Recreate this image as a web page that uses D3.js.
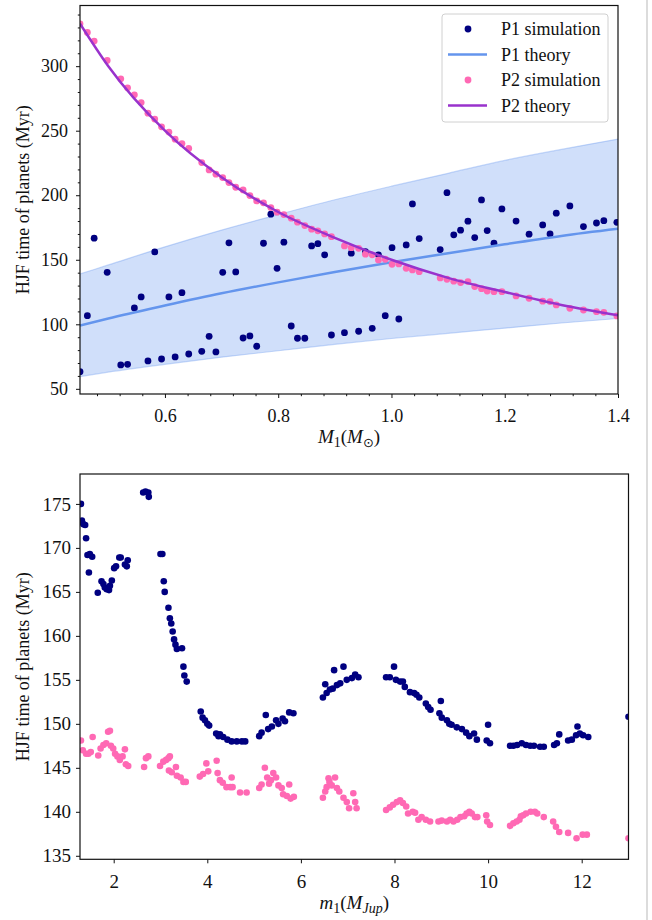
<!DOCTYPE html>
<html lang="en">
<head>
    <meta charset="utf-8">
    <title>HJF time of planets</title>
    <script src="https://d3js.org/d3.v7.min.js"></script>
    <style>
        body { margin: 0; background: #fff; }
    </style>
</head>
<body>
    <div id="chart"></div>

    <script>
        // ---- top panel: HJF time vs host star mass ----
        const hostMass = [0.450, 0.463, 0.475, 0.498, 0.522, 0.534, 0.546, 0.558, 0.570, 0.582,
            0.594, 0.607, 0.618, 0.630, 0.642, 0.665, 0.678, 0.690, 0.702, 0.713,
            0.725, 0.738, 0.750, 0.762, 0.774, 0.787, 0.798, 0.810, 0.823, 0.834,
            0.847, 0.859, 0.870, 0.882, 0.894, 0.917, 0.929, 0.942, 0.954, 0.966,
            0.977, 0.989, 1.001, 1.013, 1.026, 1.037, 1.049, 1.086, 1.098, 1.110,
            1.122, 1.135, 1.147, 1.159, 1.169, 1.181, 1.195, 1.220, 1.243, 1.267,
            1.280, 1.291, 1.315, 1.339, 1.362, 1.375, 1.398];
        const p1Sim = [63.3, 106.7, 166.7, 140.3, 68.5, 69.0, 112.7, 121.2, 71.6, 156.1,
            73.1, 121.2, 74.7, 124.5, 77.0, 79.1, 90.7, 78.6, 140.3, 163.1,
            140.6, 89.4, 91.0, 83.0, 162.8, 185.3, 143.4, 163.6, 98.7, 89.2,
            89.2, 160.7, 162.5, 153.8, 91.7, 93.5, 155.1, 94.6, 156.3, 96.9,
            153.8, 106.7, 159.4, 104.1, 161.5, 193.3, 166.4, 157.9, 202.0, 169.3,
            172.9, 179.9, 167.2, 196.4, 172.6, 162.8, 189.4, 180.0, 169.8, 177.0,
            170.0, 186.1, 191.7, 175.7, 178.5, 180.3, 179.0];
        const p2Sim = [332.8, 326.1, 319.4, 304.4, 290.2, 283.2, 277.8, 271.8, 263.6, 259.0,
            253.0, 248.9, 243.4, 240.0, 236.2, 225.3, 219.6, 216.3, 213.7, 209.8,
            206.2, 204.1, 199.7, 195.6, 194.1, 190.4, 186.9, 185.0, 182.2, 179.1,
            176.5, 173.7, 172.4, 170.0, 167.9, 160.7, 159.4, 158.9, 154.3, 153.8,
            149.9, 150.4, 146.5, 146.8, 143.4, 142.1, 140.8, 135.9, 134.9, 133.4,
            132.3, 133.1, 129.2, 127.6, 125.8, 125.3, 125.3, 122.0, 120.2, 117.9,
            117.6, 115.0, 112.4, 111.1, 109.8, 109.3, 106.5];

        const theoryMass = [0.45, 0.5, 0.6, 0.7, 0.8, 0.9, 1.0, 1.1, 1.2, 1.3, 1.4];
        const p1Theory = [99, 104.5, 114.5, 124, 132.5, 140.5, 148, 155, 162, 168.5, 174];
        const p1Upper = [139, 146, 160, 173, 185, 196.5, 207, 217, 227, 235.5, 243.5];
        const p1Lower = [59.5, 63, 69, 74.5, 79.5, 84.5, 89, 93, 97, 101, 104.5];
        const p2Theory = [333, 300, 250, 214, 187, 167, 150, 136, 125, 115, 107];

        const topXTicks = [0.6, 0.8, 1.0, 1.2, 1.4];
        const topYTicks = [50, 100, 150, 200, 250, 300];

        // ---- bottom panel: HJF time vs planet mass ----
        const p1PlanetMass = [1.30, 1.32, 1.35, 1.39, 1.41, 1.44, 1.47, 1.49, 1.54, 1.66,
            1.74, 1.78, 1.81, 1.85, 1.90, 1.92, 1.96, 2.01, 2.05, 2.12,
            2.15, 2.24, 2.28, 2.30, 2.63, 2.68, 2.74, 2.75, 3.00, 3.04,
            3.07, 3.09, 3.17, 3.20, 3.23, 3.26, 3.29, 3.32, 3.35, 3.46,
            3.49, 3.51, 3.56, 3.86, 3.90, 3.95, 4.00, 4.04, 4.19, 4.24,
            4.27, 4.34, 4.43, 4.52, 4.63, 4.74, 4.81, 5.11, 5.16, 5.25,
            5.30, 5.38, 5.47, 5.52, 5.61, 5.66, 5.75, 5.84, 6.47, 6.52,
            6.55, 6.62, 6.68, 6.71, 6.77, 6.84, 6.91, 6.98, 7.09, 7.16,
            7.23, 7.82, 7.90, 7.99, 8.03, 8.12, 8.18, 8.22, 8.33, 8.42,
            8.47, 8.53, 8.67, 8.72, 8.77, 8.96, 8.99, 9.01, 9.12, 9.17,
            9.22, 9.33, 9.44, 9.53, 9.60, 9.70, 9.76, 9.97, 10.00, 10.04,
            10.47, 10.54, 10.62, 10.72, 10.81, 10.90, 10.98, 11.11, 11.19, 11.41,
            11.47, 11.52, 11.71, 11.79, 11.88, 11.91, 11.96, 12.03, 12.14, 13.00];
        const p1Time = [175.0, 173.1, 172.7, 172.6, 171.1, 169.2, 167.2, 169.3, 169.0, 164.9,
            166.2, 165.9, 165.5, 165.3, 165.2, 165.7, 166.3, 167.7, 167.9, 168.9,
            168.9, 168.1, 167.9, 168.6, 176.3, 176.4, 176.3, 175.8, 169.3, 169.3,
            166.2, 165.0, 163.2, 162.0, 161.4, 160.5, 159.6, 159.0, 158.5, 158.6,
            156.5, 155.5, 154.8, 151.4, 150.7, 150.4, 150.0, 149.8, 148.9, 148.6,
            148.8, 148.5, 148.2, 148.0, 148.0, 148.0, 148.0, 148.6, 149.0, 151.0,
            149.4, 149.7, 150.4, 150.0, 150.6, 150.3, 151.3, 151.2, 153.0, 154.5,
            153.5, 153.9, 154.0, 156.1, 154.4, 154.6, 156.5, 155.0, 155.2, 155.6,
            155.3, 155.3, 155.3, 156.5, 155.0, 154.8, 154.8, 154.2, 153.6, 153.5,
            153.3, 153.0, 152.3, 151.9, 151.6, 151.2, 152.6, 150.7, 150.4, 150.0,
            149.9, 149.6, 149.4, 149.0, 148.6, 148.9, 148.2, 148.1, 149.9, 147.8,
            147.5, 147.5, 147.6, 147.8, 147.6, 147.5, 147.5, 147.4, 147.4, 147.6,
            147.8, 148.8, 148.1, 148.2, 148.7, 149.7, 148.9, 148.7, 148.5, 150.8];

        const p2PlanetMass = [1.30, 1.34, 1.41, 1.46, 1.51, 1.55, 1.67, 1.72, 1.78, 1.84,
            1.88, 1.92, 1.94, 1.99, 2.03, 2.08, 2.13, 2.19, 2.24, 2.26,
            2.31, 2.65, 2.69, 2.74, 2.99, 3.06, 3.12, 3.17, 3.20, 3.18,
            3.24, 3.33, 3.35, 3.43, 3.49, 3.54, 3.84, 3.91, 3.98, 4.02,
            4.20, 4.22, 4.27, 4.33, 4.41, 4.49, 4.52, 4.54, 4.70, 4.84,
            5.11, 5.16, 5.23, 5.28, 5.32, 5.36, 5.41, 5.47, 5.52, 5.59,
            5.62, 5.70, 5.75, 5.78, 5.85, 6.47, 6.52, 6.55, 6.59, 6.61,
            6.66, 6.73, 6.77, 6.82, 6.91, 6.98, 7.03, 7.12, 7.16, 7.19,
            7.82, 7.90, 7.97, 8.05, 8.12, 8.18, 8.25, 8.29, 8.39, 8.44,
            8.51, 8.58, 8.67, 8.76, 8.94, 9.01, 9.12, 9.19, 9.26, 9.34,
            9.41, 9.49, 9.54, 9.60, 9.65, 9.72, 9.77, 9.96, 9.98, 10.04,
            10.47, 10.54, 10.61, 10.67, 10.70, 10.75, 10.81, 10.91, 11.00, 11.05,
            11.19, 11.39, 11.45, 11.52, 11.71, 11.89, 12.02, 12.11, 13.00];
        const p2Time = [148.1, 147.0, 146.6, 146.6, 146.8, 148.5, 146.4, 147.2, 147.6, 147.8,
            149.1, 149.2, 147.5, 147.2, 146.6, 146.3, 145.9, 146.3, 147.1, 145.4,
            145.2, 145.1, 146.1, 146.3, 145.2, 145.7, 145.9, 146.1, 146.3, 144.7,
            144.5, 145.1, 144.1, 143.9, 143.4, 143.4, 144.0, 144.3, 145.5, 144.6,
            145.8, 144.4, 143.6, 143.3, 142.8, 142.8, 143.9, 142.8, 142.2, 142.2,
            142.7, 143.1, 145.0, 143.9, 143.2, 143.6, 144.4, 143.9, 143.0, 142.7,
            142.0, 141.8, 143.1, 141.5, 141.7, 141.6, 142.3, 142.8, 143.8, 143.4,
            143.0, 143.9, 142.7, 142.3, 141.6, 141.1, 140.4, 142.1, 141.1, 140.4,
            140.2, 140.5, 140.8, 141.1, 141.3, 141.0, 140.6, 139.8, 140.0, 139.9,
            139.1, 139.4, 139.1, 138.9, 138.9, 139.0, 138.9, 139.1, 138.9, 139.1,
            139.4, 139.5, 139.8, 140.0, 139.8, 139.4, 139.4, 139.6, 138.9, 138.5,
            138.4, 138.7, 138.9, 139.1, 139.5, 139.6, 139.8, 140.0, 140.0, 139.8,
            139.4, 138.9, 138.3, 137.7, 137.6, 137.0, 137.4, 137.4, 137.0];

        const bottomXTicks = [2, 4, 6, 8, 10, 12];
        const bottomYTicks = [135, 140, 145, 150, 155, 160, 165, 170, 175];

        const legendLabels = ["P1 simulation", "P1 theory", "P2 simulation", "P2 theory"];

        // colours and font
        const navy = "#000080";
        const pink = "#ff69b4";
        const cornflower = "#6495ed";
        const orchid = "#9932cc";
        const serif = "'Liberation Serif', 'Times New Roman', serif";

        const width = 652;
        const height = 920;

        const svg = d3.select("#chart")
            .append("svg")
            .attr("width", width)
            .attr("height", height)
            .style("font-family", serif);

        // thin grey strip at the right edge of the picture
        svg.append("line")
            .attr("x1", 647).attr("x2", 647)
            .attr("y1", 0).attr("y2", height)
            .attr("stroke", "#dcdcdc")
            .attr("stroke-width", 2);

        // restyle d3 axis text (d3 puts a sans-serif font on the group)
        function styleAxis(g, size) {
            g.attr("font-family", null).attr("font-size", null);
            g.select(".domain").remove();
            g.selectAll("line").attr("stroke", "#111");
            g.selectAll("text")
                .style("font-family", serif)
                .style("font-size", size + "px")
                .attr("fill", "#111");
        }

        // ================= TOP PANEL =================
        const topBox = { left: 80, right: 618, top: 5.5, bottom: 394 };

        const x1 = d3.scaleLinear().domain([0.45, 1.4]).range([topBox.left, topBox.right]);
        const y1 = d3.scaleLinear().domain([46, 347]).range([topBox.bottom, topBox.top]);

        svg.append("clipPath").attr("id", "clipTop")
            .append("rect")
            .attr("x", topBox.left).attr("y", topBox.top)
            .attr("width", topBox.right - topBox.left).attr("height", topBox.bottom - topBox.top);

        const gTop = svg.append("g").attr("clip-path", "url(#clipTop)");

        const theory = theoryMass.map((m, i) => ({
            m, p1: p1Theory[i], up: p1Upper[i], lo: p1Lower[i], p2: p2Theory[i]
        }));

        // shaded range around P1 theory
        gTop.append("path")
            .datum(theory)
            .attr("d", d3.area()
                .x(d => x1(d.m))
                .y0(d => y1(d.lo))
                .y1(d => y1(d.up))
                .curve(d3.curveMonotoneX))
            .attr("fill", cornflower)
            .attr("fill-opacity", 0.3);

        ["up", "lo"].forEach(k => {
            gTop.append("path")
                .datum(theory)
                .attr("d", d3.line().x(d => x1(d.m)).y(d => y1(d[k])).curve(d3.curveMonotoneX))
                .attr("fill", "none")
                .attr("stroke", cornflower)
                .attr("stroke-opacity", 0.35)
                .attr("stroke-width", 1.2);
        });

        // P1 simulation
        gTop.selectAll("circle.p1")
            .data(hostMass.map((m, i) => ({ m, v: p1Sim[i] })))
            .enter()
            .append("circle")
            .attr("class", "p1")
            .attr("cx", d => x1(d.m))
            .attr("cy", d => y1(d.v))
            .attr("r", 3.4)
            .attr("fill", navy);

        // P1 theory
        gTop.append("path")
            .datum(theory)
            .attr("d", d3.line().x(d => x1(d.m)).y(d => y1(d.p1)).curve(d3.curveMonotoneX))
            .attr("fill", "none")
            .attr("stroke", cornflower)
            .attr("stroke-width", 2.5);

        // P2 simulation
        gTop.selectAll("circle.p2")
            .data(hostMass.map((m, i) => ({ m, v: p2Sim[i] })))
            .enter()
            .append("circle")
            .attr("class", "p2")
            .attr("cx", d => x1(d.m))
            .attr("cy", d => y1(d.v))
            .attr("r", 3.4)
            .attr("fill", pink);

        // P2 theory
        gTop.append("path")
            .datum(theory)
            .attr("d", d3.line().x(d => x1(d.m)).y(d => y1(d.p2)).curve(d3.curveMonotoneX))
            .attr("fill", "none")
            .attr("stroke", orchid)
            .attr("stroke-width", 2.5);

        // axes
        const fmt1 = d3.format(".1f");
        svg.append("g")
            .attr("transform", `translate(0, ${topBox.bottom})`)
            .call(d3.axisBottom(x1).tickValues(topXTicks).tickFormat(fmt1).tickSize(4).tickPadding(11))
            .call(g => styleAxis(g, 18));
        svg.append("g")
            .attr("transform", `translate(${topBox.left}, 0)`)
            .call(d3.axisLeft(y1).tickValues(topYTicks).tickSize(4).tickPadding(8))
            .call(g => styleAxis(g, 18));

        // minor ticks
        const topXMinor = d3.range(0.48, 1.41, 0.04).filter(v => !topXTicks.some(t => Math.abs(t - v) < 1e-6));
        svg.append("g")
            .attr("transform", `translate(0, ${topBox.bottom})`)
            .call(d3.axisBottom(x1).tickValues(topXMinor).tickFormat("").tickSize(2.2))
            .call(g => styleAxis(g, 18));
        const topYMinor = d3.range(50, 341, 10).filter(v => v % 50 !== 0);
        svg.append("g")
            .attr("transform", `translate(${topBox.left}, 0)`)
            .call(d3.axisLeft(y1).tickValues(topYMinor).tickFormat("").tickSize(2.2))
            .call(g => styleAxis(g, 18));

        svg.append("rect")
            .attr("x", topBox.left).attr("y", topBox.top)
            .attr("width", topBox.right - topBox.left).attr("height", topBox.bottom - topBox.top)
            .attr("fill", "none")
            .attr("stroke", "#111")
            .attr("stroke-width", 1.2);

        // axis labels
        const xl1 = svg.append("text")
            .attr("x", (topBox.left + topBox.right) / 2)
            .attr("y", 443)
            .attr("text-anchor", "middle")
            .attr("fill", "#111")
            .style("font-size", "19px");
        xl1.append("tspan").style("font-style", "italic").text("M");
        xl1.append("tspan").attr("dy", 4).style("font-size", "14px").text("1");
        xl1.append("tspan").attr("dy", -4).text("(");
        xl1.append("tspan").style("font-style", "italic").text("M");
        xl1.append("tspan").attr("dy", 4).style("font-size", "13px")
            .style("font-family", "'DejaVu Sans'").text("\u2299");
        xl1.append("tspan").attr("dy", -4).text(")");

        svg.append("text")
            .attr("transform", `translate(23, ${(topBox.top + topBox.bottom) / 2}) rotate(-90)`)
            .attr("text-anchor", "middle")
            .attr("dominant-baseline", "central")
            .attr("fill", "#111")
            .style("font-size", "18px")
            .text("HJF time of planets (Myr)");

        // legend
        const legend = svg.append("g");
        legend.append("rect")
            .attr("x", 442).attr("y", 14)
            .attr("width", 166).attr("height", 108)
            .attr("rx", 3)
            .attr("fill", "#fff")
            .attr("fill-opacity", 0.85)
            .attr("stroke", "#d0d0d0");
        const rowY = [29, 54.5, 80, 105.5];
        legendLabels.forEach((label, i) => {
            const yy = rowY[i];
            if (i % 2 === 0) {
                legend.append("circle")
                    .attr("cx", 468).attr("cy", yy).attr("r", 3.4)
                    .attr("fill", i === 0 ? navy : pink);
            } else {
                legend.append("line")
                    .attr("x1", 448).attr("x2", 487)
                    .attr("y1", yy).attr("y2", yy)
                    .attr("stroke", i === 1 ? cornflower : orchid)
                    .attr("stroke-width", 2.5);
            }
            legend.append("text")
                .attr("x", 501).attr("y", yy + 6)
                .attr("fill", "#111")
                .style("font-size", "18px")
                .text(label);
        });

        // ================= BOTTOM PANEL =================
        const botBox = { left: 80, right: 628.5, top: 474, bottom: 859.3 };

        const x2 = d3.scaleLinear().domain([1.28, 13.0]).range([botBox.left, botBox.right]);
        const y2 = d3.scaleLinear().domain([134.6, 178.4]).range([botBox.bottom, botBox.top]);

        svg.append("clipPath").attr("id", "clipBot")
            .append("rect")
            .attr("x", botBox.left).attr("y", botBox.top)
            .attr("width", botBox.right - botBox.left).attr("height", botBox.bottom - botBox.top);

        const gBot = svg.append("g").attr("clip-path", "url(#clipBot)");

        gBot.selectAll("circle.b1")
            .data(p1PlanetMass.map((m, i) => ({ m, v: p1Time[i] })))
            .enter()
            .append("circle")
            .attr("class", "b1")
            .attr("cx", d => x2(d.m))
            .attr("cy", d => y2(d.v))
            .attr("r", 3.3)
            .attr("fill", navy);

        gBot.selectAll("circle.b2")
            .data(p2PlanetMass.map((m, i) => ({ m, v: p2Time[i] })))
            .enter()
            .append("circle")
            .attr("class", "b2")
            .attr("cx", d => x2(d.m))
            .attr("cy", d => y2(d.v))
            .attr("r", 3.3)
            .attr("fill", pink);

        svg.append("g")
            .attr("transform", `translate(0, ${botBox.bottom})`)
            .call(d3.axisBottom(x2).tickValues(bottomXTicks).tickSize(4).tickPadding(11))
            .call(g => styleAxis(g, 19));
        svg.append("g")
            .attr("transform", `translate(${botBox.left}, 0)`)
            .call(d3.axisLeft(y2).tickValues(bottomYTicks).tickSize(4).tickPadding(5))
            .call(g => styleAxis(g, 19));

        svg.append("rect")
            .attr("x", botBox.left).attr("y", botBox.top)
            .attr("width", botBox.right - botBox.left).attr("height", botBox.bottom - botBox.top)
            .attr("fill", "none")
            .attr("stroke", "#111")
            .attr("stroke-width", 1.2);

        const xl2 = svg.append("text")
            .attr("x", (botBox.left + botBox.right) / 2)
            .attr("y", 909)
            .attr("text-anchor", "middle")
            .attr("fill", "#111")
            .style("font-size", "19px");
        xl2.append("tspan").style("font-style", "italic").text("m");
        xl2.append("tspan").attr("dy", 4).style("font-size", "14px").text("1");
        xl2.append("tspan").attr("dy", -4).text("(");
        xl2.append("tspan").style("font-style", "italic").text("M");
        xl2.append("tspan").attr("dy", 4).style("font-size", "14px").style("font-style", "italic").text("Jup");
        xl2.append("tspan").attr("dy", -4).text(")");

        svg.append("text")
            .attr("transform", `translate(23, ${(botBox.top + botBox.bottom) / 2}) rotate(-90)`)
            .attr("text-anchor", "middle")
            .attr("dominant-baseline", "central")
            .attr("fill", "#111")
            .style("font-size", "18px")
            .text("HJF time of planets (Myr)");
    </script>
</body>
</html>
